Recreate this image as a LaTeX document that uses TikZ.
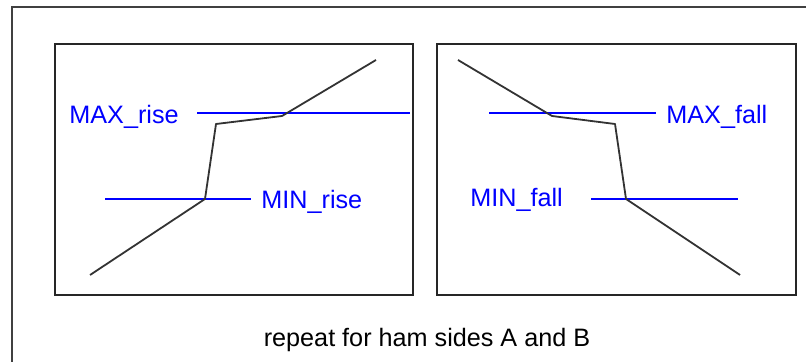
\documentclass[tikz,border=0pt]{standalone}
\usepackage{fontspec}
\setmainfont{Liberation Sans}
\usetikzlibrary{positioning}

\begin{document}
\begin{tikzpicture}[
  x=0.5pt, y=-0.5pt,
  font=\fontsize{12.6}{15}\selectfont,
  panel/.style={draw=black!85, line width=1pt},
  level/.style={draw=blue, line width=0.75pt},
  trace/.style={draw=black!80, line width=0.9pt, line join=round},
  tag/.style={text=blue, inner sep=0pt, anchor=base west},
]
\useasboundingbox (0,0) rectangle (806,362);
\draw[black!75, line width=1pt] (12,362) -- (12,7) -- (806,7);

% rise panel
\draw[panel] (55,44) rectangle (413,295);
\node[tag] (maxrise) at (69,124) {MAX\_rise};
\node[tag] (minrise) at (261,209) {MIN\_rise};
\coordinate (rmaxa) at (197,113);
\coordinate (rmaxb) at (410,113);
\coordinate (rmina) at (105,199);
\coordinate (rminb) at (251,199);
\draw[level] (rmaxa) -- (rmaxb);
\draw[level] (rmina) -- (rminb);
\coordinate (r1) at (90,275);
\coordinate (r2) at (205,199);
\coordinate (r3) at (216,124);
\coordinate (r4) at (282,116);
\coordinate (r5) at (376,60);
\draw[trace] (r1) -- (r2) -- (r3) -- (r4) -- (r5);

% fall panel
\draw[panel] (437,44) rectangle (796,295);
\node[tag] (maxfall) at (666,124) {MAX\_fall};
\node[tag] (minfall) at (470,207) {MIN\_fall};
\coordinate (fmaxa) at (489,113);
\coordinate (fmaxb) at (656,113);
\coordinate (fmina) at (591,199);
\coordinate (fminb) at (738,199);
\draw[level] (fmaxa) -- (fmaxb);
\draw[level] (fmina) -- (fminb);
\coordinate (f1) at (458,60);
\coordinate (f2) at (552,116);
\coordinate (f3) at (615,124);
\coordinate (f4) at (626,199);
\coordinate (f5) at (740,275);
\draw[trace] (f1) -- (f2) -- (f3) -- (f4) -- (f5);

\node[inner sep=0pt, anchor=base] (note) at (427,346) {repeat for ham sides A and B};
\end{tikzpicture}
\end{document}
